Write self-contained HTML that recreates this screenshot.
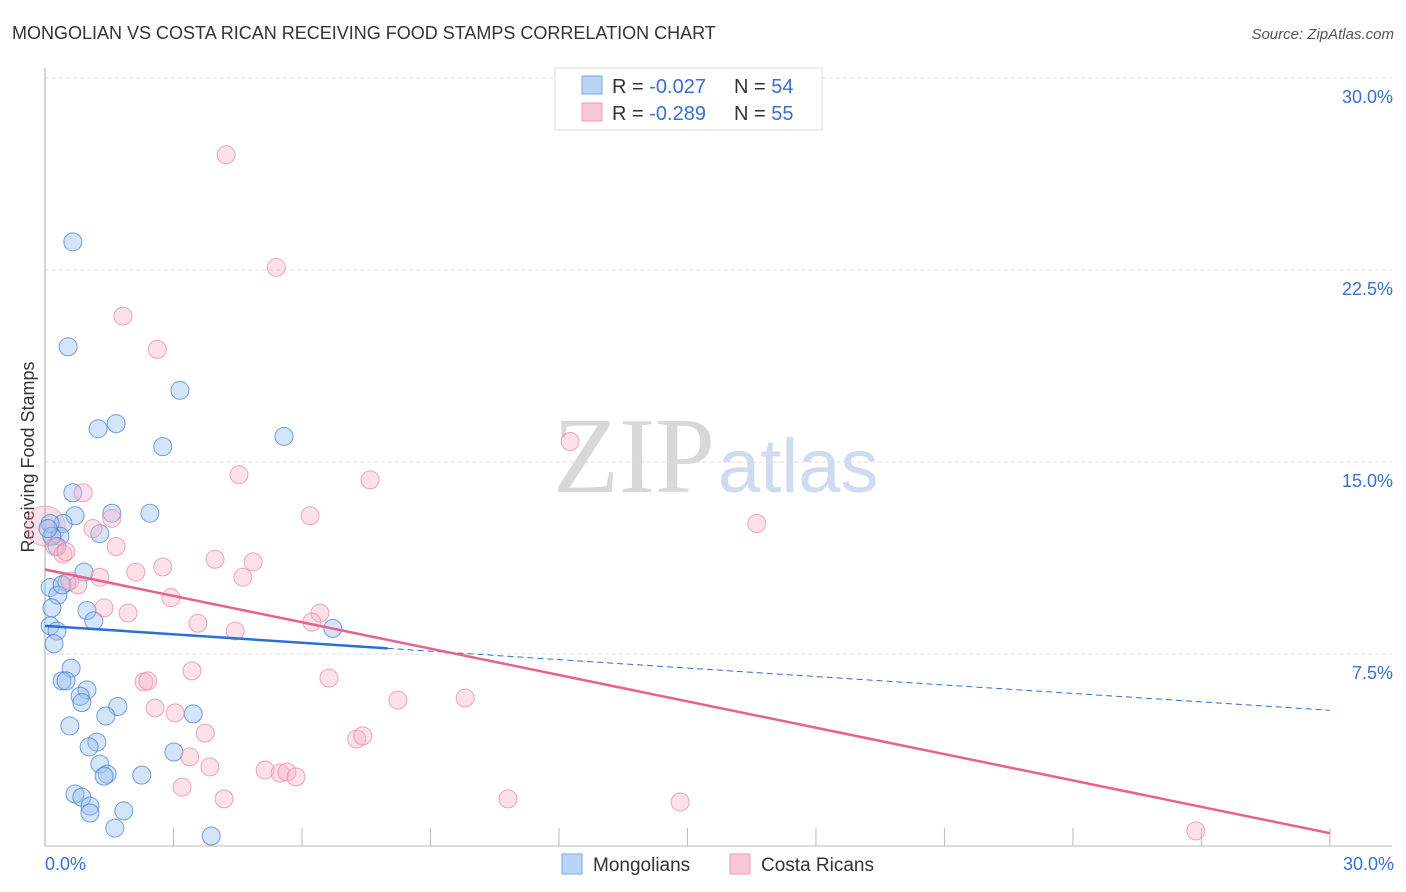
<!DOCTYPE html>
<html><head><meta charset="utf-8"><style>
body{margin:0;background:#fff;font-family:"Liberation Sans",sans-serif}
#c{position:absolute;left:0;top:0}
</style></head><body>
<svg id="c" width="1406" height="892">
<text x="12" y="39" font-size="18" fill="#333">MONGOLIAN VS COSTA RICAN RECEIVING FOOD STAMPS CORRELATION CHART</text>
<text x="1394" y="39" font-size="15" fill="#555" font-style="italic" text-anchor="end">Source: ZipAtlas.com</text>
<text x="553" y="492" font-size="108" fill="#d8d8d8" font-family="Liberation Serif">ZIP</text>
<text x="718" y="492" font-size="76" fill="#cfdcf0">atlas</text>
<g id="grid"></g>
<line x1="45" y1="68" x2="45" y2="846" stroke="#aaa"/>
<line x1="45" y1="846" x2="1392" y2="846" stroke="#bbb"/>
<text transform="translate(34,457) rotate(-90)" font-size="18" fill="#333" text-anchor="middle">Receiving Food Stamps</text>
<g id="pts"></g>
<g id="lines"></g>
<g>
<rect x="555" y="68" width="267" height="62" fill="#fff" stroke="#ddd"/>
<rect x="582" y="76" width="20" height="18" fill="#b8d3f5" stroke="#7aa8e6"/>
<rect x="582" y="103" width="20" height="18" fill="#f9c8d6" stroke="#ee9ab4"/>
<text x="612" y="93" font-size="20" fill="#333">R = <tspan fill="#3a6fd1">-0.027</tspan></text>
<text x="734" y="93" font-size="20" fill="#333">N = <tspan fill="#3a6fd1">54</tspan></text>
<text x="612" y="120" font-size="20" fill="#333">R = <tspan fill="#3a6fd1">-0.289</tspan></text>
<text x="734" y="120" font-size="20" fill="#333">N = <tspan fill="#3a6fd1">55</tspan></text>
</g>
<g>
<rect x="562" y="854" width="20" height="20" fill="#b8d3f5" stroke="#7aa8e6"/>
<text x="593" y="871" font-size="19" fill="#333">Mongolians</text>
<rect x="730" y="854" width="20" height="20" fill="#f9c8d6" stroke="#ee9ab4"/>
<text x="761" y="871" font-size="19" fill="#333">Costa Ricans</text>
</g>
<text x="45" y="870" font-size="18" fill="#3a6fd1">0.0%</text>
<text x="1394" y="870" font-size="18" fill="#3a6fd1" text-anchor="end">30.0%</text>
</svg>
<script>
const yTicks=[7.5,15,22.5,30];
const yTickLabels=["7.5%","15.0%","22.5%","30.0%"];
const xTicks=[3,6,9,12,15,18,21,24,27,30];
const mongolX=[0.65,0.54,3.15,1.66,1.24,2.75,5.58,0.65,0.70,1.56,2.45,0.42,0.12,0.35,1.28,0.16,0.91,0.51,0.12,0.30,0.98,0.16,1.14,0.12,0.28,0.21,6.72,0.61,0.40,0.49,0.98,0.82,0.86,1.70,1.42,3.46,0.58,1.21,1.03,3.01,1.28,1.45,1.38,2.26,0.70,0.86,1.05,1.05,1.84,1.63,3.88,0.07,0.28,0.40];
const mongolY=[23.6,19.5,17.8,16.5,16.3,15.6,16.0,13.8,12.9,13.0,13.0,12.6,12.6,12.1,12.2,12.1,10.7,10.3,10.1,9.8,9.2,9.3,8.8,8.6,8.4,7.9,8.5,6.95,6.45,6.45,6.1,5.85,5.6,5.45,5.08,5.16,4.69,4.06,3.87,3.67,3.2,2.81,2.73,2.77,2.03,1.91,1.56,1.29,1.37,0.70,0.39,12.4,11.7,10.2];
const costaX=[4.23,5.40,1.82,2.62,12.26,4.53,7.59,0.89,1.56,6.19,16.62,1.12,0.23,0.42,1.66,0.49,3.97,4.86,2.75,2.12,1.28,4.62,0.58,0.77,1.38,1.94,2.94,6.42,3.57,6.23,4.44,3.43,6.63,2.31,2.40,2.57,3.04,8.24,9.81,3.74,7.28,7.42,3.38,3.85,5.14,5.49,5.65,5.86,3.20,4.18,10.81,14.83,26.87,0.0];
const costaY=[27.0,22.6,20.7,19.4,15.8,14.5,14.3,13.8,12.8,12.9,12.6,12.4,11.7,11.4,11.7,11.5,11.2,11.1,10.9,10.7,10.5,10.5,10.35,10.2,9.3,9.1,9.7,9.1,8.7,8.75,8.4,6.84,6.56,6.41,6.45,5.39,5.2,5.7,5.78,4.41,4.18,4.3,3.48,3.09,2.97,2.85,2.89,2.7,2.3,1.84,1.84,1.72,0.59,12.5];
const mTrend=[8.6,5.3], cTrend=[10.8,0.5];
const X=v=>45+v*42.83, Y=v=>846-v*25.6;
const NS="http://www.w3.org/2000/svg";
function mk(t,a,p){const e=document.createElementNS(NS,t);for(const k in a)e.setAttribute(k,a[k]);p.appendChild(e);return e;}
const grid=document.getElementById('grid');
yTicks.forEach((t,i)=>{
 const l=mk('line',{x1:45,x2:1392,y1:Y(t),y2:Y(t),stroke:'#ddd','stroke-dasharray':'4,3'},grid);
 
 
 const tx=mk('text',{x:1393,y:Y(t)+25,'font-size':18,fill:'#3a6fd1','text-anchor':'end'},grid);
 tx.textContent=yTickLabels[i];
 
 
});
xTicks.forEach(t=>{
 const l=mk('line',{x1:X(t),x2:X(t),y1:828,y2:846,stroke:'#bbb'},grid);
 
 
});
const pts=document.getElementById('pts');
const big=mk('circle',{cx:X(0),cy:Y(12.5),r:20,fill:'rgba(240,150,180,0.3)',stroke:'rgba(230,120,160,0.5)'},pts);


mongolX.forEach((v,i)=>{
 const c=mk('circle',{cx:X(v),cy:Y(mongolY[i]),r:9,fill:'rgba(150,190,240,0.4)',stroke:'rgba(60,120,210,0.7)'},pts);
 
 
});
costaX.slice(0,-1).forEach((v,i)=>{
 const c=mk('circle',{cx:X(v),cy:Y(costaY[i]),r:9,fill:'rgba(248,180,200,0.4)',stroke:'rgba(235,130,165,0.7)'},pts);
 
 
});
const lines=document.getElementById('lines');
const my=x=>mTrend[0]+(mTrend[1]-mTrend[0])*x/30;
const a=mk('line',{x1:X(0),y1:Y(my(0)),x2:X(8),y2:Y(my(8)),stroke:'#2a6fd6','stroke-width':2.5},lines);


const b=mk('line',{x1:X(8),y1:Y(my(8)),x2:X(30),y2:Y(my(30)),stroke:'#2a6fd6','stroke-width':1,'stroke-dasharray':'6,4'},lines);


const c=mk('line',{x1:X(0),y1:Y(cTrend[0]),x2:X(30),y2:Y(cTrend[1]),stroke:'#e8608e','stroke-width':2.5},lines);


</script>
</body></html>
